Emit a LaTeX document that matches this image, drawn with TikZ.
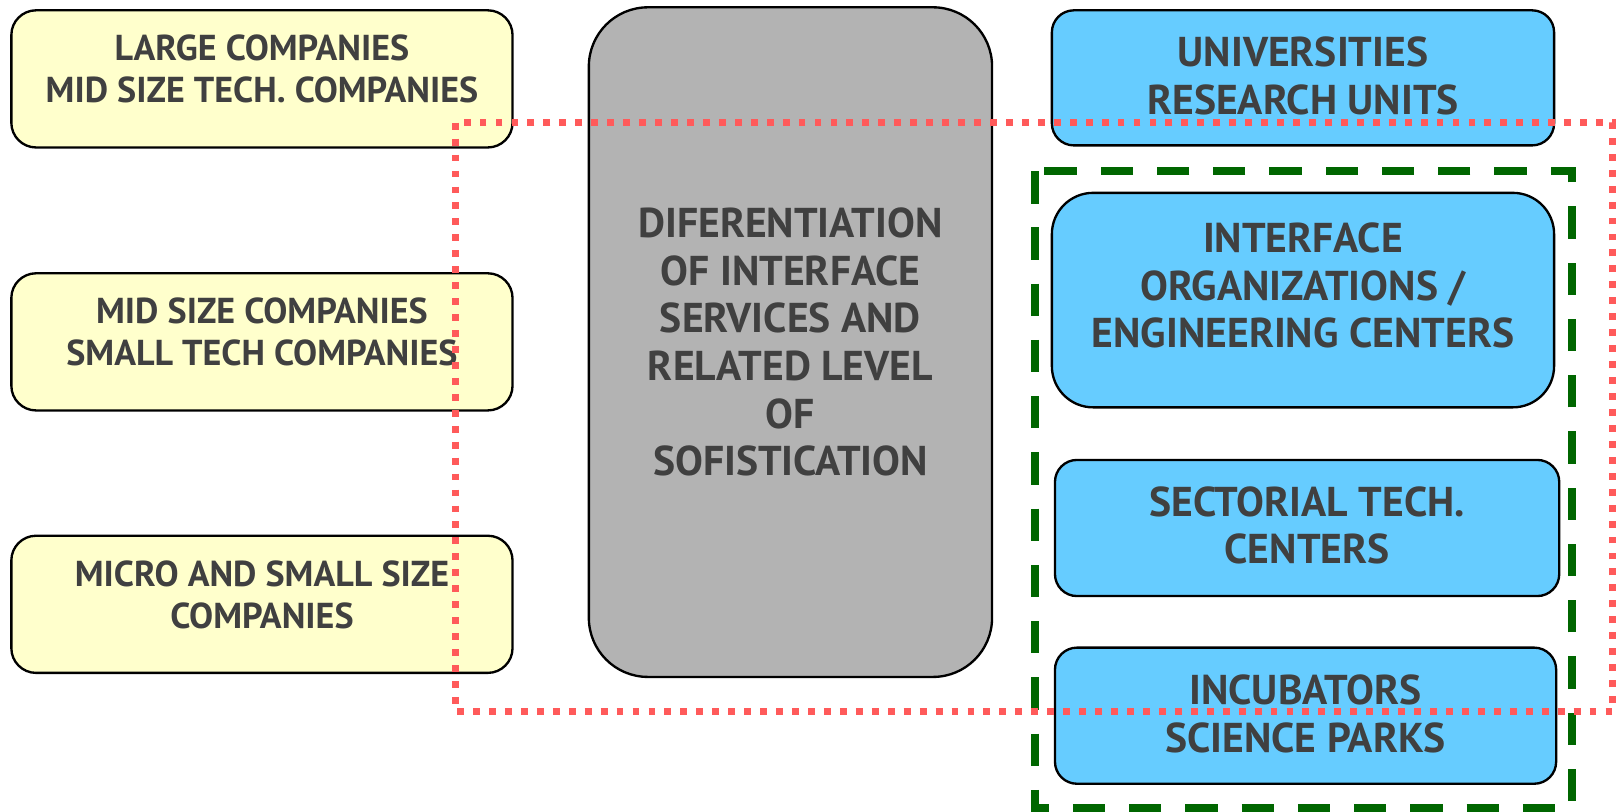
\documentclass[tikz,border=0pt]{standalone}
\usepackage{fontspec}
\setmainfont{PT Sans}
\definecolor{ylw}{HTML}{FFFFCC}
\definecolor{blu}{HTML}{66CCFF}
\definecolor{gry}{HTML}{B3B3B3}
\definecolor{txt}{HTML}{404040}
\definecolor{redd}{HTML}{FF5A5A}
\definecolor{grn}{HTML}{006600}
\begin{document}
\begin{tikzpicture}[x=0.75pt,y=-0.75pt,
  boxbase/.style={draw=black,line width=1.7pt,inner sep=0pt},
  ybox/.style={boxbase,fill=ylw,rounded corners=18pt,minimum width=364.5pt,minimum height=99.75pt},
  bbox/.style={boxbase,fill=blu},
  gbox/.style={boxbase,fill=gry,rounded corners=43pt},
  ytext/.style={text=txt,font=\bfseries\fontsize{26.2}{30.5}\selectfont,align=center,inner sep=0pt},
  btext/.style={text=txt,font=\bfseries\fontsize{30.3}{34.7}\selectfont,align=center,inner sep=0pt},
  reddot/.style={draw=redd,line width=5pt,dash pattern=on 5pt off 6.6pt},
  grndash/.style={draw=grn,line width=5.85pt,dash pattern=on 23.5pt off 17.4pt}
]
\useasboundingbox (0,0) rectangle (1568,786.5);
% gray centre box
\node[gbox,minimum width=293.25pt,minimum height=487pt] (g) at (766.5,331.75) {};
% yellow boxes
\node[ybox] (y1) at (254,76.5) {};
\node[ybox] (y2) at (254,331.5) {};
\node[ybox] (y3) at (254,586) {};
% blue boxes
\node[bbox,rounded corners=16pt,minimum width=365.25pt,minimum height=98.25pt] (b1) at (1263.5,75.5) {};
\node[bbox,rounded corners=30pt,minimum width=365.25pt,minimum height=156pt] (b2) at (1263.5,291) {};
\node[bbox,rounded corners=16pt,minimum width=366.75pt,minimum height=99pt] (b3) at (1267.5,512) {};
\node[bbox,rounded corners=16pt,minimum width=364.5pt,minimum height=99pt] (b4) at (1266,694) {};
% texts
\node[ytext] (y1t) at ([yshift=7.1pt]y1.center) {LARGE COMPANIES\\MID SIZE TECH. COMPANIES};
\node[ytext] (y2t) at ([yshift=7.1pt]y2.center) {MID SIZE COMPANIES\\SMALL TECH COMPANIES};
\node[ytext] (y3t) at ([yshift=7.1pt]y3.center) {MICRO AND SMALL SIZE\\COMPANIES};
\node[btext] (gt) at (g.center) {DIFERENTIATION\\OF INTERFACE\\SERVICES AND\\RELATED LEVEL\\OF\\SOFISTICATION};
\node[btext] (b1t) at ([yshift=1.5pt]b1.center) {UNIVERSITIES\\RESEARCH UNITS};
\node[btext] (b2t) at ([yshift=10.5pt]b2.center) {INTERFACE\\ORGANIZATIONS /\\ENGINEERING CENTERS};
\node[btext] (b3t) at ([yshift=1.9pt]b3.center) {SECTORIAL TECH.\\CENTERS};
\node[btext] (b4t) at ([yshift=1.5pt]b4.center) {INCUBATORS\\SCIENCE PARKS};
% dashed frames
\coordinate (gA) at (1004,166);
\coordinate (gB) at (1524,784);
\draw[grndash] (gA) rectangle (gB);
\coordinate (rA) at (442,119);
\coordinate (rB) at (1564,690);
\draw[reddot] (rA) rectangle (rB);
\end{tikzpicture}
\end{document}
